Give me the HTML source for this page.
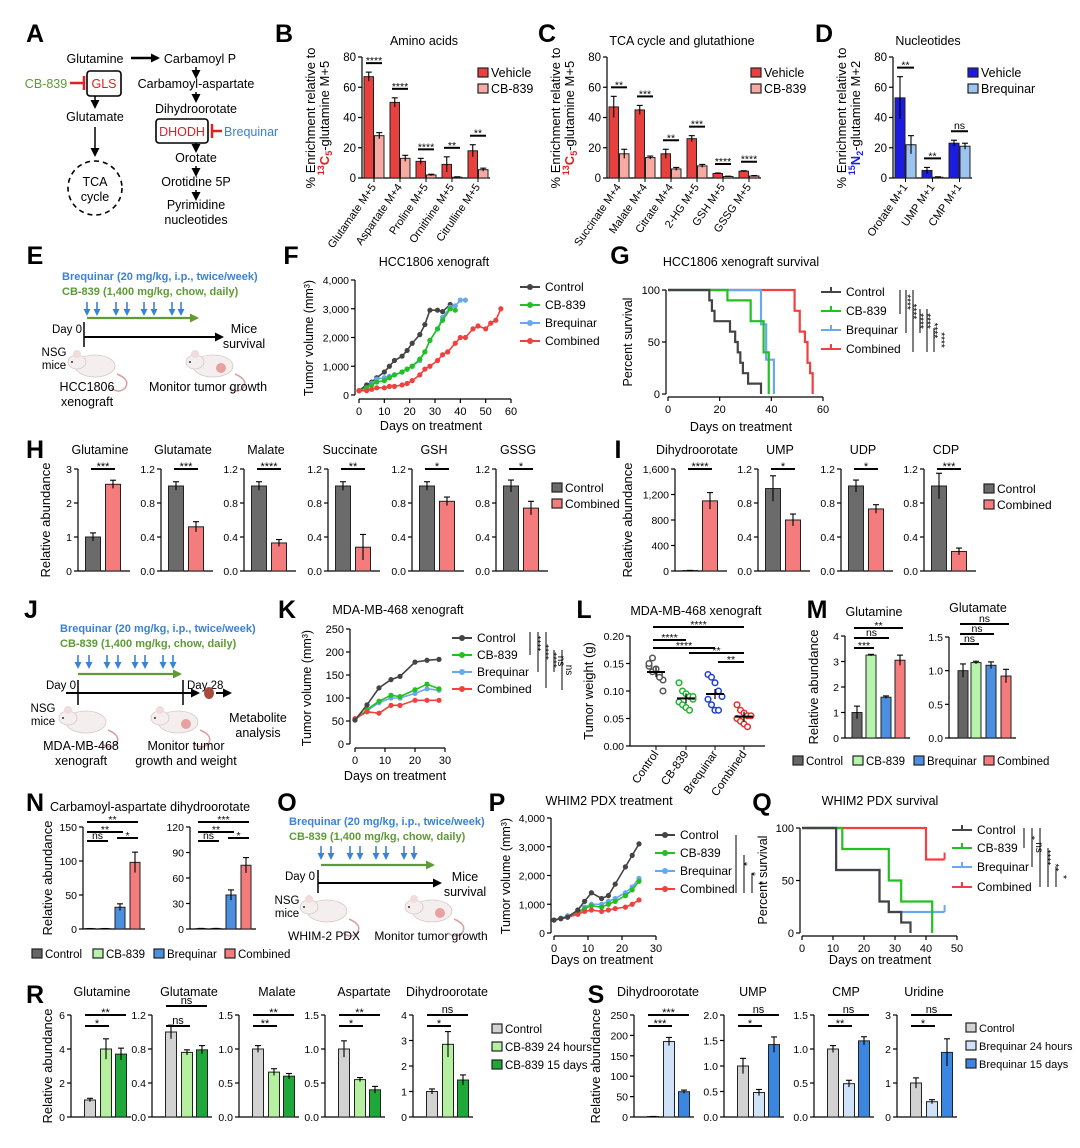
<!DOCTYPE html>
<html><head><meta charset="utf-8">
<style>
html,body{margin:0;padding:0;background:#fff;}
svg{display:block;font-family:"Liberation Sans Narrow","Liberation Sans",sans-serif;}
.L{font-family:"Liberation Sans",sans-serif;font-weight:bold;font-size:25px;}
</style></head>
<body>
<svg id="fig" width="1080" height="1148" viewBox="0 0 1080 1148" xmlns="http://www.w3.org/2000/svg">
<rect width="1080" height="1148" fill="#fff"/>
<defs>
<marker id="ah" markerUnits="userSpaceOnUse" markerWidth="9" markerHeight="9" refX="7" refY="4.5" orient="auto"><path d="M0,0 L9,4.5 L0,9 z" fill="#000"/></marker>
<marker id="ahg" markerUnits="userSpaceOnUse" markerWidth="9" markerHeight="9" refX="7" refY="4.5" orient="auto"><path d="M0,0 L9,4.5 L0,9 z" fill="#5f9a35"/></marker>
<marker id="ahb" markerUnits="userSpaceOnUse" markerWidth="7" markerHeight="7" refX="5" refY="3.5" orient="auto"><path d="M0,0 L7,3.5 L0,7 z" fill="#3a82d6"/></marker>
</defs>
</svg>
<script>
// ===== DATA =====
const bCats=["Glutamate M+5","Aspartate M+4","Proline M+5","Ornithine M+5","Citrulline M+5"];
const bVeh=[67,50,11,9,18];
const bCb=[28,13,2,0.5,5.5];
const bVehErr=[3,3,2,5,4];
const bCbErr=[2,2,0.5,0.3,1];
const bSig=["****","****","****","**","**"];
const cCats=["Succinate M+4","Malate M+4","Citrate M+4","2-HG M+5","GSH M+5","GSSG M+5"];
const cVeh=[47,45,16,26,3,4.5];
const cCb=[16,13.5,6,8,1,1.3];
const cVehErr=[7,3,3,2,0.3,0.3];
const cCbErr=[3,1,1,1,0.2,0.3];
const cSig=["**","***","**","***","****","****"];
const dCats=["Orotate M+1","UMP M+1","CMP M+1"];
const dVeh=[53,5,23];
const dBr=[22,0.5,21];
const dVehErr=[14,2,2];
const dBrErr=[6,0.3,2];
const dSig=["**","**","ns"];
const enrTicks=[0,20,40,60,80];

const fDaysCtrl=[0,3,5,7,10,12,14,17,19,21,24,26,28,31,33,36];
const fCtrl=[150,350,450,600,800,1000,1200,1350,1550,1800,2100,2450,2950,2950,2900,3150];
const fDaysCB=[0,3,5,7,10,12,14,17,19,21,24,26,28,31,33,36,38];
const fCB=[150,250,350,450,500,600,700,800,900,1000,1250,1500,1900,2300,2600,3000,2950];
const fDaysBr=[0,3,5,7,10,12,14,17,19,21,24,26,28,31,33,36,38,40,42];
const fBr=[150,250,400,550,600,650,700,800,900,1000,1200,1500,1900,2300,2700,3050,3100,3300,3300];
const fDaysCo=[0,3,5,7,10,12,14,17,19,21,24,26,28,31,33,35,38,40,42,45,47,50,52,54,56];
const fCo=[150,150,200,250,250,300,300,350,400,500,700,900,1000,1200,1400,1500,1800,2000,2000,2300,2400,2300,2500,2600,3000];
const fYTicks=[0,1000,2000,3000,4000];
const fYLabels=["0","1,000","2,000","3,000","4,000"];
const fXTicks=[0,10,20,30,40,50,60];

const gCtrlT=[0,16,17,18,24,26,27,28,29,31,36];
const gCtrlS=[100,90,80,70,60,50,40,30,20,10,0];
const gCbT=[0,23,32,37,39];
const gCbS=[100,90,70,40,0];
const gBrT=[0,36,38,41];
const gBrS=[100,67,33,0];
const gCoT=[0,49,51,53,54,55,56];
const gCoS=[100,80,60,50,30,20,0];

const hTitles=["Glutamine","Glutamate","Malate","Succinate","GSH","GSSG"];
const hMax=[3,1.2,1.2,1.2,1.2,1.2];
const hCtrl=[1.0,1.0,1.0,1.0,1.0,1.0];
const hComb=[2.55,0.52,0.33,0.28,0.82,0.74];
const hCtrlErr=[0.12,0.05,0.05,0.05,0.05,0.07];
const hCombErr=[0.12,0.06,0.04,0.15,0.05,0.08];
const hSig=["***","***","****","**","*","*"];
const ticks3=[0,1,2,3];
const ticks12=[0,0.4,0.8,1.2];
const labels12=["0.0","0.4","0.8","1.2"];

const iTitles=["Dihydroorotate","UMP","UDP","CDP"];
const iMax=[1600,1.2,1.2,1.2];
const iCtrl=[5,0.97,1.0,1.0];
const iComb=[1100,0.6,0.73,0.23];
const iCtrlErr=[5,0.15,0.07,0.15];
const iCombErr=[130,0.07,0.05,0.04];
const iSig=["****","*","*","***"];
const ticks1600=[0,400,800,1200,1600];
const labels1600=["0","400","800","1,200","1,600"];

const kDays=[0,4,8,12,15,20,24,28];
const kCtrl=[52,85,122,140,147,178,182,184];
const kCB=[52,75,93,106,103,118,130,120];
const kBr=[55,72,90,100,100,110,120,117];
const kCo=[55,70,67,84,84,95,95,95];
const kYTicks=[0,50,100,150,200,250];
const kXTicks=[0,10,20,30];

const lCats=["Control","CB-839","Brequinar","Combined"];
const lCtrl=[0.145,0.16,0.14,0.13,0.12,0.15,0.135,0.14,0.125,0.10];
const lCB=[0.115,0.10,0.095,0.09,0.085,0.08,0.075,0.07,0.065,0.09];
const lBr=[0.13,0.125,0.115,0.10,0.09,0.085,0.075,0.065,0.065];
const lCo=[0.075,0.065,0.06,0.055,0.055,0.05,0.045,0.04,0.035];
const lYTicks=[0,0.05,0.10,0.15,0.20];
const lYLabels=["0.00","0.05","0.10","0.15","0.20"];

const m1Vals=[1,3.25,1.6,3.05];
const m1Err=[0.25,0.03,0.05,0.2];
const m2Vals=[1,1.12,1.08,0.92];
const m2Err=[0.1,0.02,0.05,0.1];
const ticks4=[0,1,2,3,4];
const ticks15=[0,0.5,1.0,1.5];
const labels15=["0.0","0.5","1.0","1.5"];

const n1Vals=[0.5,0.5,32,98];
const n1Err=[0.2,0.2,5,15];
const n2Vals=[0.5,0.5,40,75];
const n2Err=[0.2,0.2,6,9];
const ticks150=[0,50,100,150];
const ticks120=[0,30,60,90,120];

const pDays=[0,2,4,7,9,11,14,16,18,21,23,25];
const pCtrl=[450,500,550,800,1100,1400,1200,1300,1700,2300,2700,3100];
const pCB=[450,500,550,700,850,950,900,1000,1100,1300,1500,1800];
const pBr=[450,520,600,700,900,1000,1000,1100,1200,1400,1600,1900];
const pCo=[450,500,550,650,750,800,750,800,850,900,1000,1150];
const pXTicks=[0,10,20,30];

const qCtrlT=[0,11,25,28,32,35];
const qCtrlS=[100,60,30,20,10,0];
const qCbT=[0,13,28,32,42];
const qCbS=[100,80,50,30,0];
const qBrT=[0,11,25,28];
const qBrS=[100,60,30,20];
const qCoT=[0,40];
const qCoS=[100,70];
const qEnd=[35,42,46,46];
const qXTicks=[0,10,20,30,40,50];

const rTitles=["Glutamine","Glutamate","Malate","Aspartate","Dihydroorotate"];
const rMax=[6,1.2,1.5,1.5,4];
const rCtrl=[1,1,1,1,1];
const r24=[4,0.76,0.66,0.55,2.85];
const r15=[3.7,0.79,0.6,0.4,1.45];
const rCtrlErr=[0.1,0.08,0.05,0.12,0.1];
const r24Err=[0.6,0.03,0.05,0.03,0.5];
const r15Err=[0.35,0.05,0.04,0.05,0.2];
const rSigLow=["*","ns","**","*","*"];
const rSigHigh=["**","ns","**","**","ns"];
const ticks6=[0,2,4,6];
const ticks4b=[0,1,2,3,4];

const sTitles=["Dihydroorotate","UMP","CMP","Uridine"];
const sMax=[250,2,1.5,3];
const sCtrl=[1,1,1,1];
const s24=[185,0.48,0.49,0.45];
const s15=[62,1.42,1.12,1.9];
const sCtrlErr=[0.3,0.15,0.05,0.15];
const s24Err=[10,0.06,0.05,0.06];
const s15Err=[4,0.15,0.06,0.4];
const sSigLow=["***","*","**","*"];
const sSigHigh=["***","ns","ns","ns"];
const ticks250=[0,50,100,150,200,250];
const ticks2=[0,0.5,1.0,1.5,2.0];
const labels2=["0.0","0.5","1.0","1.5","2.0"];

// ===== HELPERS =====
const NS='http://www.w3.org/2000/svg';
const svg=document.getElementById('fig');
function mk(tag,attrs,parent){const e=document.createElementNS(NS,tag);for(const k in attrs)e.setAttribute(k,attrs[k]);(parent||svg).appendChild(e);return e;}
function txt(x,y,s,size,opts,parent){const t=mk('text',Object.assign({x:x,y:y,'font-size':size},opts||{}),parent);t.textContent=s;return t;}
function lin(d0,d1,r0,r1){return v=>r0+(v-d0)/(d1-d0)*(r1-r0);}
function grp(name){const g=mk('g',{});return g;}
function letter(ch,x,y){const t=txt(x,y,ch,25,{'class':'L','text-anchor':'middle'});}
function yAxis(g,x,sc,ticks,labels,fs){
  const a=mk('line',{x1:x,x2:x,y1:sc(ticks[0]),y2:sc(ticks[ticks.length-1]),stroke:'#000','stroke-width':1.2},g);
  
  ticks.forEach((v,i)=>{mk('line',{x1:x-4,x2:x,y1:sc(v),y2:sc(v),stroke:'#000','stroke-width':1.2},g);
    const t=txt(x-6,sc(v)+4,labels?labels[i]:String(v),fs||11,{'text-anchor':'end'},g);
    });
}
function xAxis(g,y,sc,ticks,fs){
  const a=mk('line',{x1:sc(ticks[0]),x2:sc(ticks[ticks.length-1]),y1:y,y2:y,stroke:'#000','stroke-width':1.2},g);
  
  ticks.forEach(v=>{mk('line',{x1:sc(v),x2:sc(v),y1:y,y2:y+4,stroke:'#000','stroke-width':1.2},g);
    const t=txt(sc(v),y+16,String(v),fs||11,{'text-anchor':'middle'},g);
    });
}
function rtitle(g,x,y,s,fs,name){const t=txt(x,y,s,fs||12.5,{'text-anchor':'middle',transform:'rotate(-90 '+x+' '+y+')'},g);return t;}
function errbar(g,x,yv,ye,sc,w){
  mk('line',{x1:x,x2:x,y1:sc(yv-ye),y2:sc(yv+ye),stroke:'#000','stroke-width':1.1},g);
  mk('line',{x1:x-w,x2:x+w,y1:sc(yv+ye),y2:sc(yv+ye),stroke:'#000','stroke-width':1.1},g);
}
function sig(g,x1,x2,y,label,fs){
  const l=mk('line',{x1:x1,x2:x2,y1:y,y2:y,stroke:'#000','stroke-width':2},g);
  
  const t=txt((x1+x2)/2,label==='ns'?y-2:y+1,label,fs||11,{'text-anchor':'middle'},g);
  
}
function legendBox(g,x,y,fill,label,fs){
  const r=mk('rect',{x:x,y:y-9,width:10,height:9,fill:fill,stroke:'#222','stroke-width':1.2},g);
  
  const t=txt(x+13,y,label,fs||12,{},g);
  
}
function legendLine(g,x,y,color,label,marker){
  mk('line',{x1:x,x2:x+20,y1:y-4,y2:y-4,stroke:color,'stroke-width':2},g);
  if(marker)mk('circle',{cx:x+10,cy:y-4,r:3,fill:color},g);
  else mk('line',{x1:x+10,x2:x+10,y1:y-9,y2:y-4,stroke:color,'stroke-width':2},g);
  const t=txt(x+25,y,label,12,{},g);
  
}
function bars(g,ax,sc,offs,bw,vals,errs,colors,names){
  vals.forEach((v,i)=>{
    const cx=ax+offs[i];
    const r=mk('rect',{x:cx-bw/2,y:Math.min(sc(v),sc(0)-0.5),width:bw,height:Math.max(0.5,sc(0)-sc(v)),fill:colors[i],stroke:'#222','stroke-width':1},g);
    
    errbar(g,cx,v,errs[i],sc,3);
  });
}
function series(g,xs,ys,sx,sy,color,name){
  const pl=mk('polyline',{points:xs.map((d,i)=>sx(d)+','+sy(ys[i])).join(' '),fill:'none',stroke:color,'stroke-width':1.6},g);
  
  xs.forEach((d,i)=>{const c=mk('circle',{cx:sx(d),cy:sy(ys[i]),r:2.6,fill:color},g);
    });
}
function steps(g,T,S,endT,sx,sy,color,name){
  let d='M'+sx(T[0])+','+sy(S[0]);
  for(let i=1;i<T.length;i++){d+=' H'+sx(T[i])+' V'+sy(S[i]);}
  d+=' H'+sx(endT);
  const p=mk('path',{d:d,fill:'none',stroke:color,'stroke-width':2.2},g);
  
  const last=S[S.length-1];
  if(last>0)mk('line',{x1:sx(endT),x2:sx(endT),y1:sy(last),y2:sy(last)-7,stroke:color,'stroke-width':2},g);
}
function mouse(g,x,y,tumor){
  mk('path',{d:`M${x+22},${y+8} q14,6 8,14 q-6,6 -14,0`,fill:'none',stroke:'#d8a0a0','stroke-width':1.5},g);
  mk('ellipse',{cx:x,cy:y,rx:20,ry:11,fill:'#f4efee',stroke:'#d8c8c8','stroke-width':0.8},g);
  mk('ellipse',{cx:x-18,cy:y-4,rx:9,ry:7,fill:'#f4efee',stroke:'#d8c8c8','stroke-width':0.8},g);
  mk('circle',{cx:x-18,cy:y-12,r:4,fill:'#f0dcdc'},g);
  mk('circle',{cx:x-23,cy:y-4,r:1,fill:'#333'},g);
  if(tumor)mk('circle',{cx:x+8,cy:y+2,r:5,fill:'#e8a0a0'},g);
}
function dosing(g,x0,yB,yC,arrowXs,arrowTop,greenY,greenEnd){
  const t1=txt(x0,yB,'Brequinar (20 mg/kg, i.p., twice/week)',11,{fill:'#3a82d6','font-weight':'bold'},g);
  
  const t2=txt(x0,yC,'CB-839 (1,400 mg/kg, chow, daily)',11,{fill:'#5f9a35','font-weight':'bold'},g);
  
  arrowXs.forEach(x=>mk('line',{x1:x,x2:x,y1:arrowTop,y2:arrowTop+12,stroke:'#3a82d6','stroke-width':1.6,'marker-end':'url(#ahb)'},g));
  mk('line',{x1:arrowXs[0],x2:greenEnd,y1:greenY,y2:greenY,stroke:'#5f9a35','stroke-width':2.2,'marker-end':'url(#ahg)'},g);
}

// ===== PANEL A =====
letter('A',35,42);
(function(){
  const g=grp('pathway-diagram');
  const T=(x,y,s,c,name)=>{const t=txt(x,y,s,12.5,{'text-anchor':'middle',fill:c||'#000'},g);};
  const A=(x1,y1,x2,y2)=>mk('line',{x1:x1,y1:y1,x2:x2,y2:y2,stroke:'#000','stroke-width':1.5,'marker-end':'url(#ah)'},g);
  T(95,63,'Glutamine',null,'glutamine-node');
  mk('line',{x1:131,y1:58,x2:158,y2:58,stroke:'#000','stroke-width':2.5,'marker-end':'url(#ah)'},g);
  T(200,63,'Carbamoyl P',null,'carbamoyl-p-node');
  mk('rect',{x:87,y:71,width:34,height:25,rx:3,fill:'#fff',stroke:'#000','stroke-width':1.6},g);
  T(104,88,'GLS','#e0201e','gls-enzyme');
  T(46,88,'CB-839','#5f9a35','cb839-inhibitor');
  mk('line',{x1:70,y1:83,x2:84,y2:83,stroke:'#e0201e','stroke-width':2.5},g);
  mk('line',{x1:84,y1:76,x2:84,y2:90,stroke:'#e0201e','stroke-width':2.5},g);
  A(95,96,95,107);
  T(95,121,'Glutamate',null,'glutamate-node');
  A(95,127,95,155);
  const c=mk('circle',{cx:95,cy:188,r:27,fill:'none',stroke:'#000','stroke-width':1.6,'stroke-dasharray':'5,4'},g);
  
  T(95,186,'TCA',null,'tca-label');T(95,201,'cycle',null,'cycle-label');
  A(196,67,196,77);
  T(196,88,'Carbamoyl-aspartate',null,'carbamoyl-aspartate-node');
  A(196,92,196,101);
  T(196,113,'Dihydroorotate',null,'dihydroorotate-node');
  mk('rect',{x:156,y:119,width:52,height:24,rx:3,fill:'#fff',stroke:'#000','stroke-width':1.6},g);
  T(182,136,'DHODH','#e0201e','dhodh-enzyme');
  mk('line',{x1:222,y1:131,x2:212,y2:131,stroke:'#e0201e','stroke-width':2.5},g);
  mk('line',{x1:212,y1:124,x2:212,y2:138,stroke:'#e0201e','stroke-width':2.5},g);
  const b=txt(224,136,'Brequinar',12.5,{fill:'#3a82d6'},g);
  A(196,143,196,151);
  T(196,162,'Orotate',null,'orotate-node');
  A(196,166,196,175);
  T(196,186,'Orotidine 5P',null,'orotidine-node');
  A(196,190,196,199);
  T(196,209,'Pyrimidine',null,'pyrimidine-node');
  T(196,224,'nucleotides',null,'nucleotides-node');
})();

// ===== PANELS B, C, D =====
function grouped(letterCh,lx,name,ax,start,pitch,bw,cats,v1,v2,e1,e2,sg,col1,col2,leg1,leg2,legX,title,titleX,isN){
  letter(letterCh,lx,42);
  const g=grp(name);
  const sc=lin(0,80,178,57);
  const t=txt(titleX,45,title,12.5,{'text-anchor':'middle'},g);
  yAxis(g,ax,sc,enrTicks,null,11.5);
  const endX=start+(cats.length-1)*pitch+2*bw+3;
  const xa=mk('line',{x1:ax,x2:endX,y1:178,y2:178,stroke:'#000','stroke-width':1.2},g);
  
  cats.forEach((c,i)=>{
    const x=start+i*pitch;
    bars(g,x,sc,[bw/2,bw*1.5+1],bw,[v1[i],v2[i]],[e1[i],e2[i]],[col1,col2],[leg1.toLowerCase()+'-'+i,leg2.toLowerCase()+'-'+i]);
    mk('line',{x1:x+bw+0.5,x2:x+bw+0.5,y1:178,y2:182,stroke:'#000'},g);
    const top=Math.min(sc(v1[i]+e1[i]),sc(v2[i]+e2[i]))-9;
    sig(g,x+2,x+2*bw-1,top,sg[i],10.5);
    const cx=x+bw+3,cy=187;
    const lt=txt(cx,cy,c,11,{'text-anchor':'end',transform:'rotate(-55 '+cx+' '+cy+')'},g);
    
  });
  legendBox(g,legX,77,col1,leg1,12.5);
  legendBox(g,legX,93,col2,leg2,12.5);
  const x1=ax-47,x2=ax-33,ym=118;
  rtitle(g,x1,ym,'% Enrichment relative to',13);
  const t2=mk('text',{x:x2,y:ym,'font-size':13,'text-anchor':'middle',transform:'rotate(-90 '+x2+' '+ym+')'},g);
  
  const iso=isN?['15','N','2','#2020e0','-glutamine M+2']:['13','C','5','#e0201e','-glutamine M+5'];
  t2.innerHTML='<tspan fill="'+iso[3]+'" font-weight="bold" font-size="9" dy="-5">'+iso[0]+'</tspan><tspan fill="'+iso[3]+'" font-weight="bold" dy="5">'+iso[1]+'</tspan><tspan fill="'+iso[3]+'" font-weight="bold" font-size="9" dy="3">'+iso[2]+'</tspan><tspan dy="-3">'+iso[4]+'</tspan>';
}
grouped('B',284,'panel-b-amino-acids',362,364,26,9.5,bCats,bVeh,bCb,bVehErr,bCbErr,bSig,'#e8403c','#f6aaa2','Vehicle','CB-839',478,'Amino acids',424);
grouped('C',547,'panel-c-tca',607,609,26,9.5,cCats,cVeh,cCb,cVehErr,cCbErr,cSig,'#e8403c','#f6aaa2','Vehicle','CB-839',751,'TCA cycle and glutathione',682);
grouped('D',824,'panel-d-nucleotides',893,895,27,10,dCats,dVeh,dBr,dVehErr,dBrErr,dSig,'#1c1ce0','#9cc4ee','Vehicle','Brequinar',968,'Nucleotides',928,true);

// ===== PANEL E =====
letter('E',35,264);
(function(){
  const g=grp('panel-e-schematic');
  dosing(g,62,280,295,[87,97,116,127,144,154,172,181],302,318,197);
  txt(82,333,'Day 0',11.5,{'text-anchor':'end'},g);
  mk('line',{x1:84,x2:84,y1:322,y2:347,stroke:'#000','stroke-width':1.5},g);
  mk('line',{x1:84,x2:222,y1:337,y2:337,stroke:'#000','stroke-width':2,'marker-end':'url(#ah)'},g);
  txt(244,333,'Mice',12.5,{'text-anchor':'middle'},g);txt(244,348,'survival',12.5,{'text-anchor':'middle'},g);
  txt(54,356,'NSG',11.5,{'text-anchor':'middle'},g);txt(54,369,'mice',11.5,{'text-anchor':'middle'},g);
  mouse(g,95,366,false);mouse(g,213,366,true);
  txt(87,391,'HCC1806',12.5,{'text-anchor':'middle'},g);txt(87,406,'xenograft',12.5,{'text-anchor':'middle'},g);
  txt(208,391,'Monitor tumor growth',12.5,{'text-anchor':'middle'},g);
})();

// ===== PANEL F =====
letter('F',291,264);
(function(){
  const g=grp('panel-f-hcc1806-growth');
  const sx=lin(0,60,359,511),sy=lin(0,4000,395,280);
  const t=txt(434,266,'HCC1806 xenograft',12.5,{'text-anchor':'middle'},g);
  yAxis(g,355,sy,fYTicks,fYLabels,10.5);
  xAxis(g,399,sx,fXTicks,11);
  rtitle(g,313,338,'Tumor volume (mm³)',12.5);
  const xt=txt(431,430,'Days on treatment',12.5,{'text-anchor':'middle'},g);
  series(g,fDaysCtrl,fCtrl,sx,sy,'#444','control');
  series(g,fDaysBr,fBr,sx,sy,'#6aa8ee','brequinar');
  series(g,fDaysCB,fCB,sx,sy,'#22c022','cb839');
  series(g,fDaysCo,fCo,sx,sy,'#f04040','combined');
  legendLine(g,520,291,'#444','Control',true);
  legendLine(g,520,309,'#22c022','CB-839',true);
  legendLine(g,520,327,'#6aa8ee','Brequinar',true);
  legendLine(g,520,345,'#f04040','Combined',true);
})();

// ===== PANEL G =====
letter('G',620,264);
(function(){
  const g=grp('panel-g-hcc1806-survival');
  const sx=lin(0,60,668,823),sy=lin(0,100,394,290);
  const t=txt(741,266,'HCC1806 xenograft survival',12.5,{'text-anchor':'middle'},g);
  yAxis(g,666,sy,[0,50,100],null,11);
  xAxis(g,397,sx,[0,20,40,60],11);
  rtitle(g,632,342,'Percent survival',12.5);
  const xt=txt(741,431,'Days on treatment',12.5,{'text-anchor':'middle'},g);
  steps(g,gCoT,gCoS,56,sx,sy,'#f04040','combined');
  steps(g,gBrT,gBrS,41,sx,sy,'#6aa8ee','brequinar');
  steps(g,gCbT,gCbS,39,sx,sy,'#22c022','cb839');
  steps(g,gCtrlT,gCtrlS,36,sx,sy,'#444','control');
  legendLine(g,821,296,'#444','Control');
  legendLine(g,821,315,'#22c022','CB-839');
  legendLine(g,821,334,'#6aa8ee','Brequinar');
  legendLine(g,821,353,'#f04040','Combined');
  [[900,290,314],[906,290,333],[913,290,352],[920,309,333],[927,309,352],[934,328,352]].forEach(d=>{
    mk('line',{x1:d[0],x2:d[0],y1:d[1],y2:d[2],stroke:'#000','stroke-width':1},g);
    const s=txt(d[0]+4,(d[1]+d[2])/2,'****',10,{'text-anchor':'middle',transform:'rotate(90 '+(d[0]+4)+' '+((d[1]+d[2])/2)+')'},g);
    
  });
})();

// ===== PANEL H & I =====
function pairPanel(gname,ax,top,bot,max,ticks,labels,title,v,e,sg,cols,names){
  const g=grp(gname);
  const sc=lin(0,max,bot,top);
  const t=txt(ax+22,454,title,12.5,{'text-anchor':'middle'},g);
  yAxis(g,ax,sc,ticks,labels,10.5);
  const xa=mk('line',{x1:ax,x2:ax+52,y1:bot,y2:bot,stroke:'#000','stroke-width':1.2},g);
  
  bars(g,ax,sc,[15,35],15,v,e,cols,names);
  sig(g,ax+13,ax+37,top,sg,11);
}
letter('H',35,458);
hTitles.forEach((tt,i)=>{
  const ax=[78,161,244,328,412,496][i];
  pairPanel('panel-h-'+tt.toLowerCase(),ax,469,571,hMax[i],i===0?ticks3:ticks12,i===0?null:labels12,tt,[hCtrl[i],hComb[i]],[hCtrlErr[i],hCombErr[i]],hSig[i],['#6b6b6b','#f47c7c'],['control','combined']);
});
(function(){const g=grp('panel-h-legend');legendBox(g,552,492,'#6b6b6b','Control',12);legendBox(g,552,508,'#f47c7c','Combined',12);rtitle(g,50,520,'Relative abundance',13);})();
letter('I',618,458);
iTitles.forEach((tt,i)=>{
  const ax=[675,758,841,924][i];
  pairPanel('panel-i-'+tt.toLowerCase(),ax,469,571,iMax[i],i===0?ticks1600:ticks12,i===0?labels1600:labels12,tt,[iCtrl[i],iComb[i]],[iCtrlErr[i],iCombErr[i]],iSig[i],['#6b6b6b','#f47c7c'],['control','combined']);
});
(function(){const g=grp('panel-i-legend');legendBox(g,984,493,'#6b6b6b','Control',12);legendBox(g,984,509,'#f47c7c','Combined',12);rtitle(g,632,520,'Relative abundance',13);})();

// ===== PANEL J =====
letter('J',31,618);
(function(){
  const g=grp('panel-j-schematic');
  dosing(g,60,632,647,[78,89,107,118,135,145,163,173],655,674,180);
  txt(76,689,'Day 0',11.5,{'text-anchor':'end'},g);
  txt(187,689,'Day 28',11.5,{},g);
  mk('line',{x1:78,x2:78,y1:680,y2:705,stroke:'#000','stroke-width':1.5},g);
  mk('line',{x1:183,x2:183,y1:680,y2:705,stroke:'#000','stroke-width':1.5},g);
  mk('line',{x1:66,x2:198,y1:693,y2:693,stroke:'#000','stroke-width':2,'marker-end':'url(#ah)'},g);
  mk('ellipse',{cx:209,cy:693,rx:5,ry:6,fill:'#a84a3c'},g);
  mk('line',{x1:216,x2:230,y1:693,y2:693,stroke:'#000','stroke-width':2,'marker-end':'url(#ah)'},g);
  txt(43,712,'NSG',11.5,{'text-anchor':'middle'},g);txt(43,725,'mice',11.5,{'text-anchor':'middle'},g);
  mouse(g,86,722,false);mouse(g,178,722,true);
  txt(258,722,'Metabolite',12.5,{'text-anchor':'middle'},g);txt(258,737,'analysis',12.5,{'text-anchor':'middle'},g);
  txt(81,750,'MDA-MB-468',12.5,{'text-anchor':'middle'},g);txt(81,765,'xenograft',12.5,{'text-anchor':'middle'},g);
  txt(186,750,'Monitor tumor',12.5,{'text-anchor':'middle'},g);txt(186,765,'growth and weight',12.5,{'text-anchor':'middle'},g);
})();

// ===== PANEL K =====
letter('K',287,618);
(function(){
  const g=grp('panel-k-mda-growth');
  const sx=lin(0,30,355,445),sy=lin(0,250,744,629);
  const t=txt(398,614,'MDA-MB-468 xenograft',12.5,{'text-anchor':'middle'},g);
  yAxis(g,350,sy,kYTicks,null,11);
  xAxis(g,748,sx,kXTicks,11);
  rtitle(g,311,688,'Tumor volume (mm³)',12.5);
  const xt=txt(395,780,'Days on treatment',12.5,{'text-anchor':'middle'},g);
  series(g,kDays,kBr,sx,sy,'#6aa8ee','brequinar');
  series(g,kDays,kCB,sx,sy,'#22c022','cb839');
  series(g,kDays,kCo,sx,sy,'#f04040','combined');
  series(g,kDays,kCtrl,sx,sy,'#444','control');
  legendLine(g,452,642,'#444','Control',true);
  legendLine(g,452,659,'#22c022','CB-839',true);
  legendLine(g,452,676,'#6aa8ee','Brequinar',true);
  legendLine(g,452,693,'#f04040','Combined',true);
  [[530,632,655,'****'],[538,632,672,'****'],[546,632,688,'****'],[554,650,672,'ns'],[562,650,690,'ns']].forEach(d=>{
    mk('line',{x1:d[0],x2:d[0],y1:d[1],y2:d[2],stroke:'#000','stroke-width':1},g);
    const cy=(d[1]+d[2])/2;const s=txt(d[0]+4,cy,d[3],10,{'text-anchor':'middle',transform:'rotate(90 '+(d[0]+4)+' '+cy+')'},g);
    
  });
})();

// ===== PANEL L =====
letter('L',584,618);
(function(){
  const g=grp('panel-l-tumor-weight');
  const sy=lin(0,0.2,746,636);
  const gx=[656,686,715,744];
  const t=txt(696,615,'MDA-MB-468 xenograft',12.5,{'text-anchor':'middle'},g);
  yAxis(g,630,sy,lYTicks,lYLabels,10.5);
  const xa=mk('line',{x1:630,x2:765,y1:746,y2:746,stroke:'#000','stroke-width':1.2},g);
  
  rtitle(g,593,691,'Tumor weight (g)',13);
  const groups=[lCtrl,lCB,lBr,lCo];
  const cols=['#555','#22b030','#2040d0','#e03030'];
  groups.forEach((arr,gi)=>{
    mk('line',{x1:gx[gi],x2:gx[gi],y1:746,y2:750,stroke:'#000'},g);
    arr.forEach((v,k)=>{const c=mk('circle',{cx:gx[gi]+((k%5)-2)*3.5,cy:sy(v),r:2.8,fill:'#fff',stroke:cols[gi],'stroke-width':1.5},g);
      });
    const m=arr.reduce((a,b)=>a+b,0)/arr.length;
    const ml=mk('line',{x1:gx[gi]-9,x2:gx[gi]+9,y1:sy(m),y2:sy(m),stroke:'#000','stroke-width':2},g);
    
    mk('line',{x1:gx[gi],x2:gx[gi],y1:sy(m)-5,y2:sy(m)+5,stroke:'#000','stroke-width':1.2},g);
    const cx=gx[gi]+3,cy=754;
    const lt=txt(cx,cy,lCats[gi],11.5,{'text-anchor':'end',transform:'rotate(-55 '+cx+' '+cy+')'},g);
    
  });
  sig(g,gx[0]-3,gx[1],640,'****',10.5);
  sig(g,gx[0]-3,gx[2],648,'****',10.5);
  sig(g,gx[0]-3,gx[3],627,'****',10.5);
  sig(g,gx[1]+3,gx[3],653,'**',10.5);
  sig(g,gx[2]+3,gx[3],662,'**',10.5);
})();

// ===== PANEL M & N (4-bar) =====
const c4=['#666','#b6f4ac','#4a8fe0','#f47c7c'];
const n4=['control','cb839','brequinar','combined'];
function quadPanel(gname,ax,top,bot,max,ticks,labels,offs,bw,v,e,title,tx,ty,br){
  const g=grp(gname);
  const sc=lin(0,max,bot,top);
  if(title){const t=txt(tx,ty,title,12.5,{'text-anchor':'middle'},g);}
  yAxis(g,ax,sc,ticks,labels,10.5);
  const xa=mk('line',{x1:ax,x2:ax+offs[3]+bw,y1:bot,y2:bot,stroke:'#000','stroke-width':1.2},g);
  
  bars(g,ax,sc,offs,bw,v,e,c4,n4);
  br.forEach(b=>sig(g,ax+offs[b[0]]-3,ax+offs[b[1]]+3,b[3],b[2],10.5));
}
letter('M',817,618);
quadPanel('panel-m-glutamine',845,636,738,4,ticks4,null,[12,26,41,55],10,m1Vals,m1Err,'Glutamine',874,616,[[0,1,'***',648],[0,2,'ns',638],[0,3,'**',628]]);
quadPanel('panel-m-glutamate',949,637,738,1.5,ticks15,labels15,[14,27,42,57],10,m2Vals,m2Err,'Glutamate',978,612,[[0,1,'ns',644],[0,2,'ns',634],[0,3,'ns',624]]);
(function(){const g=grp('panel-m-legend');legendBox(g,793,765,c4[0],'Control',11.5);legendBox(g,853,765,c4[1],'CB-839',11.5);legendBox(g,914,765,c4[2],'Brequinar',11.5);legendBox(g,984,765,c4[3],'Combined',11.5);rtitle(g,818,687,'Relative abundance',13);})();

letter('N',35,811);
(function(){const g=grp('panel-n-title');const t=txt(150,811,'Carbamoyl-aspartate dihydroorotate',12.5,{'text-anchor':'middle'},g);rtitle(g,52,878,'Relative abundance',13);})();
quadPanel('panel-n-carbamoyl-aspartate',83,827,929,150,ticks150,null,[7,22,37,52],10,n1Vals,n1Err,null,0,0,[[0,1,'ns',841],[0,2,'**',832],[0,3,'**',822],[2,3,'*',838]]);
quadPanel('panel-n-dihydroorotate',190,827,929,120,ticks120,null,[11,26,41,56],10,n2Vals,n2Err,null,0,0,[[0,1,'ns',841],[0,2,'**',832],[0,3,'***',822],[2,3,'*',838]]);
(function(){const g=grp('panel-n-legend');legendBox(g,32,958,c4[0],'Control',11.5);legendBox(g,93,958,c4[1],'CB-839',11.5);legendBox(g,154,958,c4[2],'Brequinar',11.5);legendBox(g,225,958,c4[3],'Combined',11.5);})();

// ===== PANEL O =====
letter('O',287,811);
(function(){
  const g=grp('panel-o-schematic');
  dosing(g,289,825,840,[321,331,350,360,376,386,404,414],846,865,433);
  txt(315,880,'Day 0',11.5,{'text-anchor':'end'},g);
  mk('line',{x1:318,x2:318,y1:870,y2:893,stroke:'#000','stroke-width':1.5},g);
  mk('line',{x1:318,x2:440,y1:883,y2:883,stroke:'#000','stroke-width':2,'marker-end':'url(#ah)'},g);
  txt(465,881,'Mice',12.5,{'text-anchor':'middle'},g);txt(465,896,'survival',12.5,{'text-anchor':'middle'},g);
  txt(287,904,'NSG',11.5,{'text-anchor':'middle'},g);txt(287,917,'mice',11.5,{'text-anchor':'middle'},g);
  mouse(g,327,911,false);mouse(g,432,911,true);
  txt(324,940,'WHIM-2 PDX',12,{'text-anchor':'middle'},g);
  txt(431,940,'Monitor tumor growth',12,{'text-anchor':'middle'},g);
})();

// ===== PANEL P =====
letter('P',497,811);
(function(){
  const g=grp('panel-p-whim2-growth');
  const sx=lin(0,30,554,656),sy=lin(0,4000,933,818);
  const t=txt(609,805,'WHIM2 PDX treatment',12.5,{'text-anchor':'middle'},g);
  yAxis(g,551,sy,fYTicks,fYLabels,10.5);
  xAxis(g,936,sx,pXTicks,11);
  rtitle(g,510,876,'Tumor volume (mm³)',12.5);
  const xt=txt(602,964,'Days on treatment',12.5,{'text-anchor':'middle'},g);
  series(g,pDays,pBr,sx,sy,'#6aa8ee','brequinar');
  series(g,pDays,pCB,sx,sy,'#22c022','cb839');
  series(g,pDays,pCo,sx,sy,'#f04040','combined');
  series(g,pDays,pCtrl,sx,sy,'#444','control');
  legendLine(g,655,839,'#444','Control',true);
  legendLine(g,655,857,'#22c022','CB-839',true);
  legendLine(g,655,875,'#6aa8ee','Brequinar',true);
  legendLine(g,655,893,'#f04040','Combined',true);
  [[736,835,893],[744,855,893],[752,873,893]].forEach(d=>{
    mk('line',{x1:d[0],x2:d[0],y1:d[1],y2:d[2],stroke:'#000','stroke-width':1},g);
    const cy=(d[1]+d[2])/2;const s=txt(d[0]+4,cy,'*',11,{'text-anchor':'middle',transform:'rotate(90 '+(d[0]+4)+' '+cy+')'},g);
    
  });
})();

// ===== PANEL Q =====
letter('Q',762,811);
(function(){
  const g=grp('panel-q-whim2-survival');
  const sx=lin(0,50,802,957),sy=lin(0,100,933,828);
  const t=txt(880,805,'WHIM2 PDX survival',12.5,{'text-anchor':'middle'},g);
  yAxis(g,800,sy,[0,50,100],null,11);
  xAxis(g,936,sx,qXTicks,11);
  rtitle(g,767,880,'Percent survival',12.5);
  const xt=txt(880,964,'Days on treatment',12.5,{'text-anchor':'middle'},g);
  steps(g,qCoT,qCoS,qEnd[3],sx,sy,'#f04040','combined');
  steps(g,qBrT,qBrS,qEnd[2],sx,sy,'#6aa8ee','brequinar');
  steps(g,qCbT,qCbS,qEnd[1],sx,sy,'#22c022','cb839');
  steps(g,qCtrlT,qCtrlS,qEnd[0],sx,sy,'#444','control');
  legendLine(g,952,834,'#444','Control');
  legendLine(g,952,852,'#22c022','CB-839');
  legendLine(g,952,871,'#6aa8ee','Brequinar');
  legendLine(g,952,891,'#f04040','Combined');
  [[1024,828,848,'*'],[1032,828,867,'ns'],[1040,828,887,'****'],[1048,848,887,'**'],[1056,867,887,'*']].forEach(d=>{
    mk('line',{x1:d[0],x2:d[0],y1:d[1],y2:d[2],stroke:'#000','stroke-width':1},g);
    const cy=(d[1]+d[2])/2;const s=txt(d[0]+4,cy,d[3],10,{'text-anchor':'middle',transform:'rotate(90 '+(d[0]+4)+' '+cy+')'},g);
    
  });
})();

// ===== PANELS R & S =====
function triPanel(gname,ax,max,ticks,labels,title,tx,v,e,cols,names,sLow,sHigh){
  const g=grp(gname);
  const top=1015,bot=1117;
  const sc=lin(0,max,bot,top);
  const t=txt(tx,996,title,12.5,{'text-anchor':'middle'},g);
  yAxis(g,ax,sc,ticks,labels,10.5);
  const xa=mk('line',{x1:ax,x2:ax+60,y1:bot,y2:bot,stroke:'#000','stroke-width':1.2},g);
  
  bars(g,ax,sc,[19,35,50],11,v,e,cols,names);
  sig(g,ax+14,ax+38,1026,sLow,11);
  sig(g,ax+14,ax+55,sHigh==='ns'&&max<1.3?1006:1015,sHigh,11);
}
letter('R',35,1003);
const rCols=['#d2d2d2','#b4f0a0','#1fa83a'];
const rAx=[71,152,239,325,413];
const rTx=[102,189,277,364,447];
rTitles.forEach((tt,i)=>{
  const tk=[ticks6,ticks12,ticks15,ticks15,ticks4b][i];
  const lb=[null,labels12,labels15,labels15,null][i];
  triPanel('panel-r-'+tt.toLowerCase(),rAx[i],rMax[i],tk,lb,tt,rTx[i],[rCtrl[i],r24[i],r15[i]],[rCtrlErr[i],r24Err[i],r15Err[i]],rCols,['control','cb839-24h','cb839-15d'],rSigLow[i],rSigHigh[i]);
});
(function(){const g=grp('panel-r-legend');legendBox(g,492,1033,rCols[0],'Control',11.5);legendBox(g,492,1051,rCols[1],'CB-839 24 hours',11.5);legendBox(g,492,1069,rCols[2],'CB-839 15 days',11.5);rtitle(g,52,1066,'Relative abundance',13);})();
letter('S',596,1003);
const sCols=['#d2d2d2','#cfe2f7','#3b86e0'];
const sAx=[634,724,814,897];
const sTx=[658,753,846,924];
sTitles.forEach((tt,i)=>{
  const tk=[ticks250,ticks2,ticks15,ticks3][i];
  const lb=[null,labels2,labels15,null][i];
  triPanel('panel-s-'+tt.toLowerCase(),sAx[i],sMax[i],tk,lb,tt,sTx[i],[sCtrl[i],s24[i],s15[i]],[sCtrlErr[i],s24Err[i],s15Err[i]],sCols,['control','brequinar-24h','brequinar-15d'],sSigLow[i],sSigHigh[i]);
});
(function(){const g=grp('panel-s-legend');legendBox(g,966,1032,sCols[0],'Control',11);legendBox(g,966,1050,sCols[1],'Brequinar 24 hours',11);legendBox(g,966,1068,sCols[2],'Brequinar 15 days',11);rtitle(g,600,1066,'Relative abundance',13);})();
</script>
</body></html>
